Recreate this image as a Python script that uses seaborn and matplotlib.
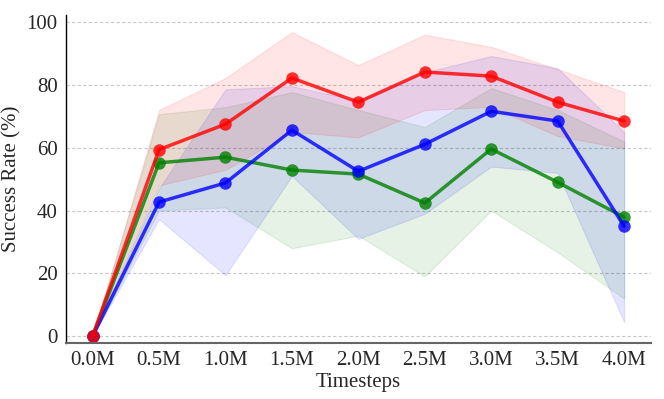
import matplotlib
matplotlib.use("Agg")
import matplotlib.pyplot as plt
import pandas as pd
import seaborn as sns

# ── data ─────────────────────────────────────────────────────────────────────
timesteps = [0.0, 0.5, 1.0, 1.5, 2.0, 2.5, 3.0, 3.5, 4.0]
tick_labels = ["0.0M", "0.5M", "1.0M", "1.5M", "2.0M", "2.5M", "3.0M", "3.5M", "4.0M"]

red_mean = [0, 59.4, 67.5, 82.2, 74.5, 84.1, 82.8, 74.5, 68.5]
red_low = [0, 48, 53, 65, 63.3, 72, 73, 63.7, 59.8]
red_high = [0, 72, 82.2, 96.8, 86.3, 96, 92.1, 85, 77.7]

blue_mean = [0, 42.7, 48.8, 65.6, 52.5, 61.1, 71.6, 68.5, 35]
blue_low = [0, 37.3, 19.4, 51, 31, 39, 54, 52, 4.5]
blue_high = [0, 47, 78.6, 79.6, 75, 84, 89.2, 85.3, 65]

green_mean = [0, 55.2, 57.0, 52.9, 51.6, 42.4, 59.6, 49.0, 37.9]
green_low = [0, 40, 41, 28, 32, 19, 40, 26.7, 12]
green_high = [0, 70.7, 72.9, 77.7, 72, 66.6, 79, 72, 62]

sns.set_theme(style="white")
plt.rcParams["font.family"] = ["Liberation Serif", "DejaVu Serif"]

fig = plt.figure(figsize=(6.64, 3.99), dpi=100)
ax = fig.add_axes([0.0994, 0.140, 0.8806, 0.822])

series = [
    ("green", green_mean, green_low, green_high),
    ("blue", blue_mean, blue_low, blue_high),
    ("red", red_mean, red_low, red_high),
]

for color, mean, low, high in series:
    ax.fill_between(timesteps, low, high, color=color, alpha=0.1, linewidth=0.8)

for color, mean, low, high in series:
    df = pd.DataFrame({"t": timesteps, "v": mean})
    sns.lineplot(data=df, x="t", y="v", ax=ax, color=color, alpha=0.8,
                 linewidth=2.5, marker="o", markersize=9, markeredgewidth=0)

ax.set_xlim(-0.2, 4.2)
ax.set_ylim(-2.2, 102.2)
ax.set_xticks(timesteps)
ax.set_xticklabels(tick_labels)
ax.set_yticks([0, 20, 40, 60, 80, 100])
ax.yaxis.grid(True, linestyle=(0, (3, 2)), color="#c8c8c8", linewidth=0.8)
ax.xaxis.grid(False)
ax.set_axisbelow(True)

ax.set_xlabel("Timesteps", fontsize=15, labelpad=2)
ax.set_ylabel("Success Rate (%)", fontsize=15, labelpad=4)
ax.tick_params(axis="x", labelsize=15, direction="in", length=3, color="#666666", pad=6)
ax.tick_params(axis="y", labelsize=15, length=0, pad=6)

for side in ["top", "right"]:
    ax.spines[side].set_visible(False)
ax.spines["left"].set_color("black")
ax.spines["left"].set_linewidth(1.0)
ax.spines["bottom"].set_color("#666666")
ax.spines["bottom"].set_linewidth(1.5)

plt.savefig("out.png", dpi=100)
plt.close()
